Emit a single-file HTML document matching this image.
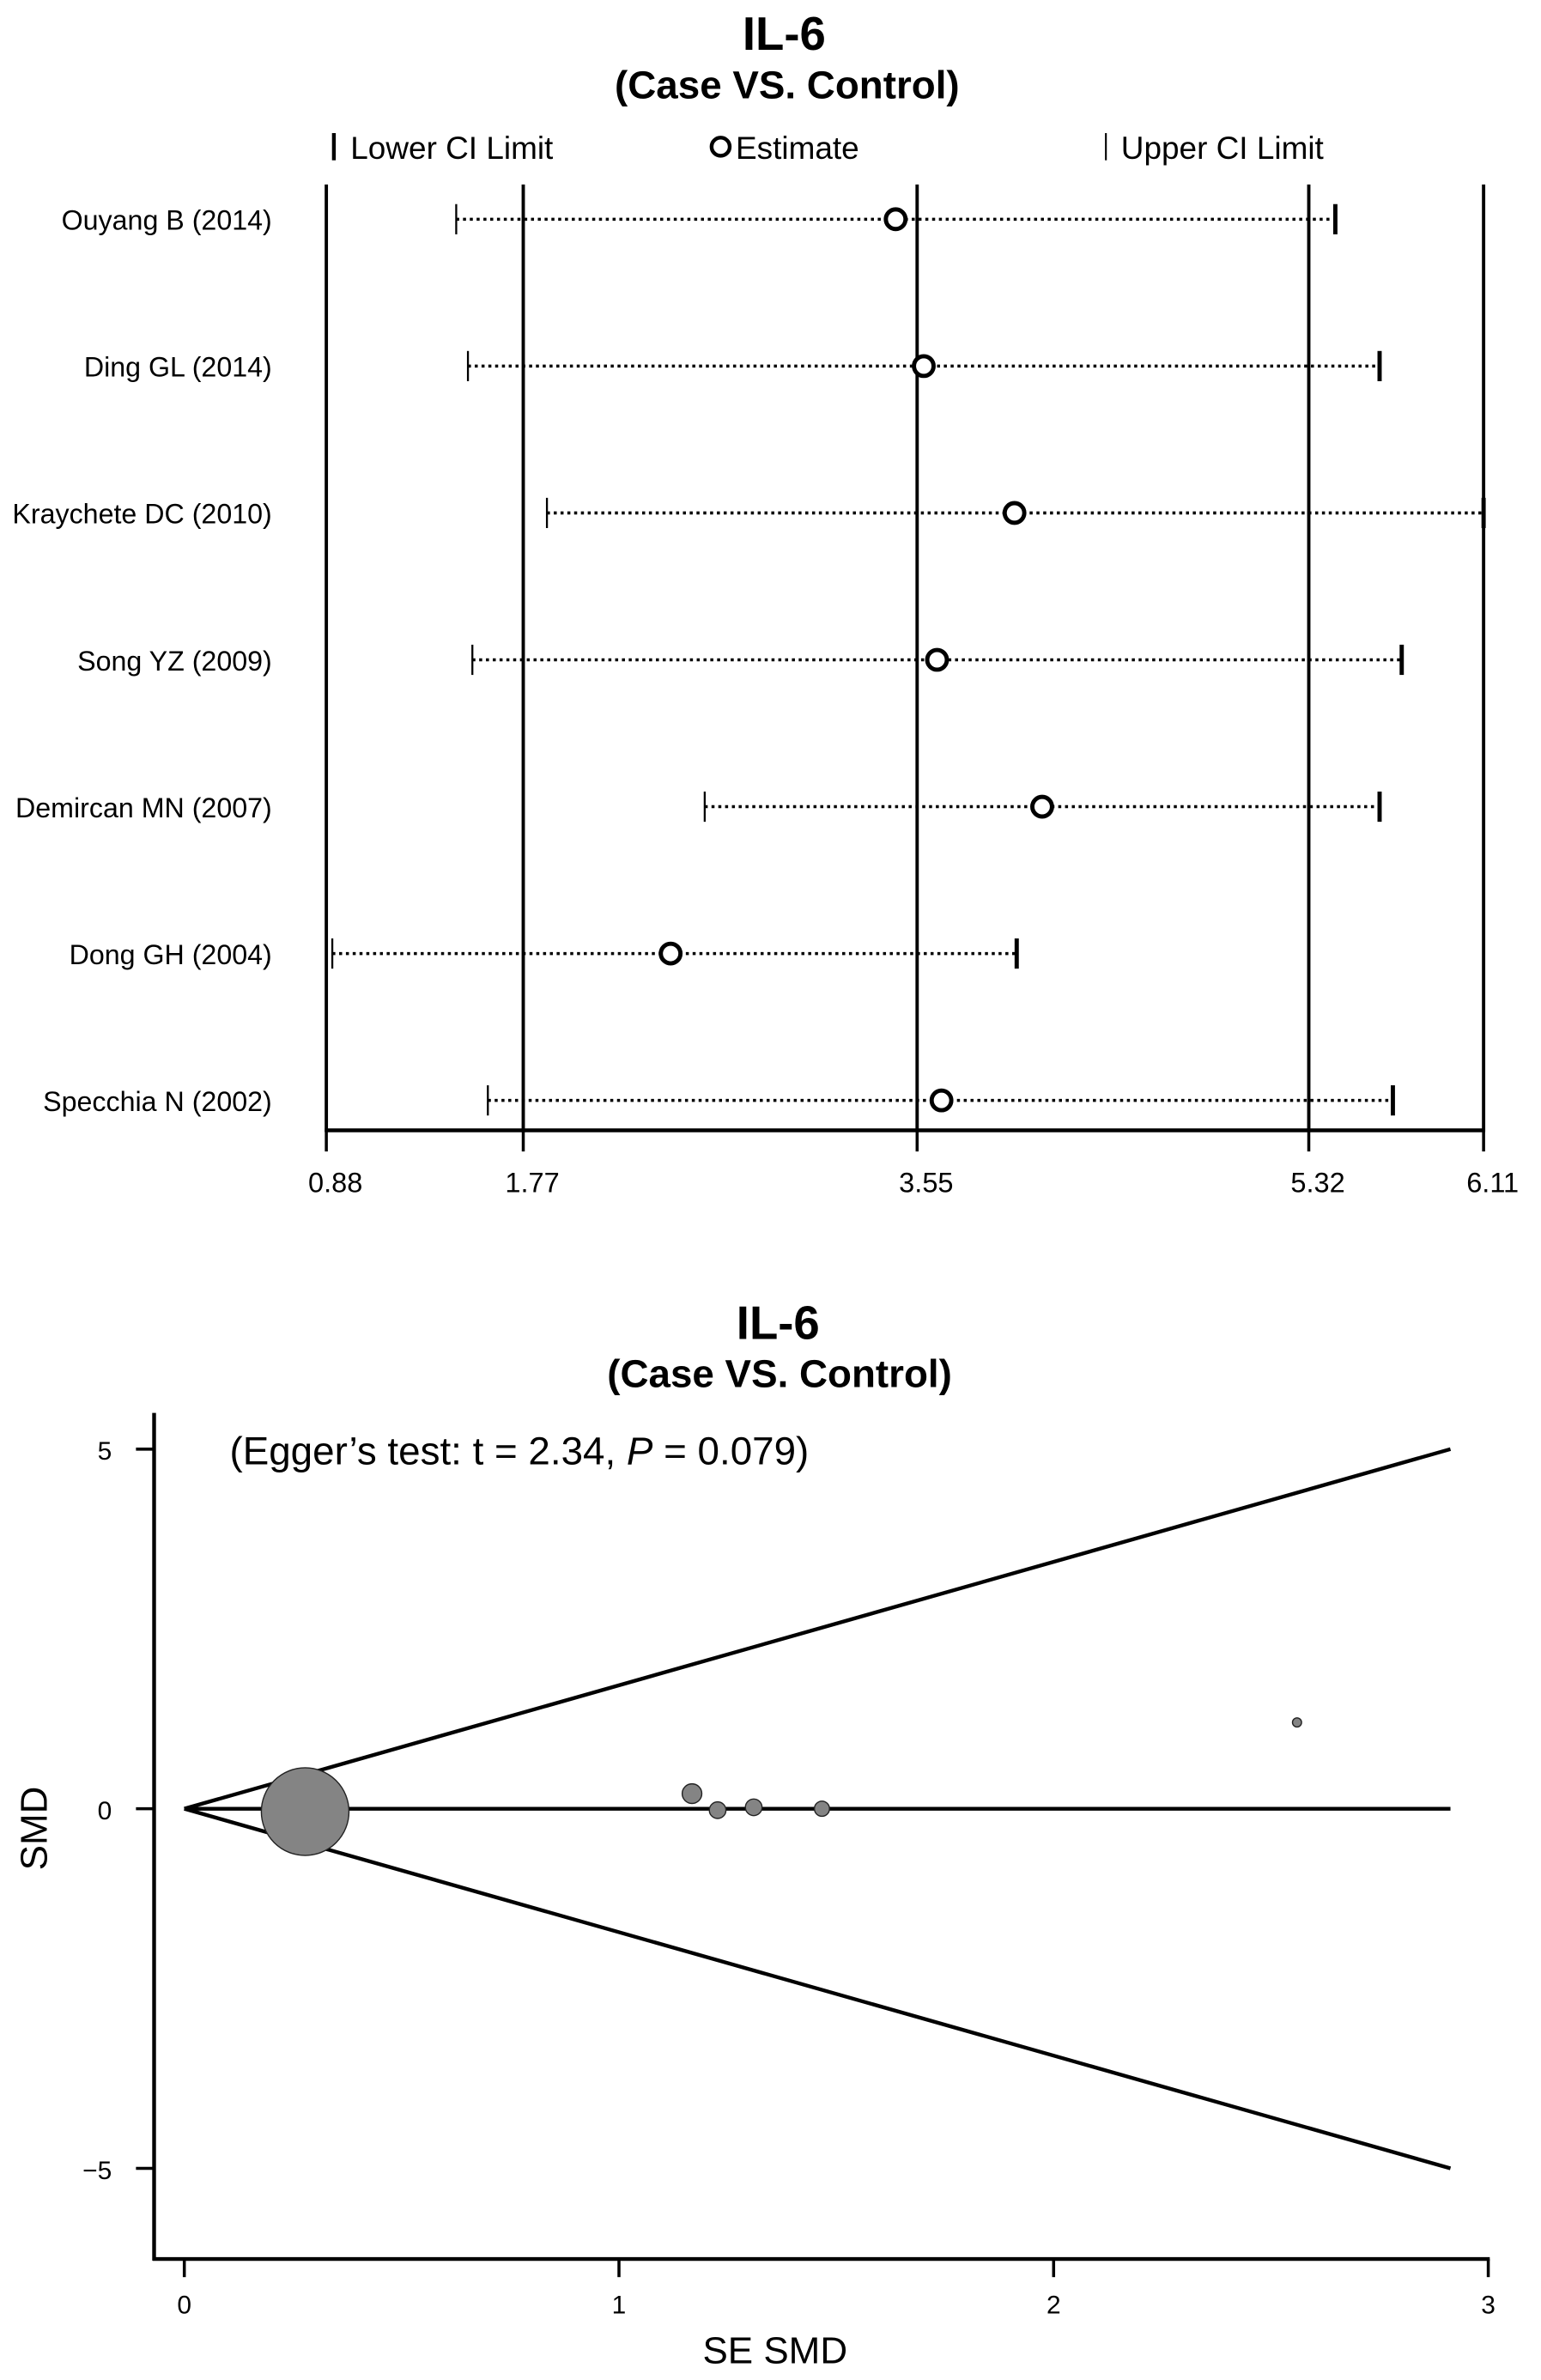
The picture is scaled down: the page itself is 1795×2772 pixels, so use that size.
<!DOCTYPE html>
<html><head><meta charset="utf-8"><style>
html,body{margin:0;padding:0;background:#fff;}
svg{display:block;font-family:"Liberation Sans",Arial,sans-serif;}
</style></head><body>
<svg id="fig" width="1795" height="2772" viewBox="0 0 1020 1575">
<g id="forest">
<text x="519" y="33" text-anchor="middle" font-size="31" font-weight="bold">IL-6</text>
<text x="521" y="65" text-anchor="middle" font-size="26" font-weight="bold">(Case VS. Control)</text>
<g>
<line x1="221" y1="88" x2="221" y2="106" stroke="#000" stroke-width="2.5"/>
<text x="232" y="105" font-size="21">Lower CI Limit</text>
<circle cx="477" cy="97" r="6" fill="none" stroke="#000" stroke-width="2.5"/>
<text x="487" y="105" font-size="21">Estimate</text>
<line x1="732" y1="88" x2="732" y2="106" stroke="#000" stroke-width="1.2"/>
<text x="742" y="105" font-size="21">Upper CI Limit</text>
</g>
</g>
<g id="funnel">
<text x="515" y="886" text-anchor="middle" font-size="31" font-weight="bold">IL-6</text>
<text x="516" y="918" text-anchor="middle" font-size="26" font-weight="bold">(Case VS. Control)</text>
<text x="152" y="969" font-size="26">(Egger’s test: t = 2.34, <tspan font-style="italic">P</tspan> = 0.079)</text>
<text transform="translate(31,1210) rotate(-90)" text-anchor="middle" font-size="25">SMD</text>
<text x="513" y="1564" text-anchor="middle" font-size="25">SE SMD</text>
</g>
</svg>
<script>
const NS='http://www.w3.org/2000/svg';
function mk(parent,tag,attrs){const e=document.createElementNS(NS,tag);for(const k in attrs)e.setAttribute(k,attrs[k]);parent.appendChild(e);return e;}

// ---- Forest plot data ----
const studies=['Ouyang B (2014)','Ding GL (2014)','Kraychete DC (2010)','Song YZ (2009)','Demircan MN (2007)','Dong GH (2004)','Specchia N (2002)'];
const lowerCI=[1.467,1.52,1.877,1.54,2.59,0.907,1.61];
const estimates=[3.453,3.58,3.99,3.64,4.115,2.436,3.66];
const upperCI=[5.44,5.64,6.11,5.74,5.64,4.0,5.70];
const forestTicks=[0.88,1.77,3.55,5.32,6.11];
const forestTickLabels=['0.88','1.77','3.55','5.32','6.11'];

const fx=v=>216+(v-0.88)*(766/5.23);
const rowY=i=>145+i*97.2;
const F=document.getElementById('forest');
forestTicks.forEach((t,i)=>{
  const l=mk(F,'line',{x1:fx(t),y1:122,x2:fx(t),y2:749,stroke:'#000','stroke-width':2.2});
  
  
  const tk=mk(F,'line',{x1:fx(t),y1:748,x2:fx(t),y2:762,stroke:'#000','stroke-width':2});
  
  
  const tx=mk(F,'text',{x:fx(t)+6,y:789,'text-anchor':'middle','font-size':18.5});
  tx.textContent=forestTickLabels[i];
  
  
});
const ax=mk(F,'line',{x1:fx(0.88)-1,y1:748,x2:fx(6.11)+1,y2:748,stroke:'#000','stroke-width':2.5});


studies.forEach((s,i)=>{
  const y=rowY(i);
  const lb=mk(F,'text',{x:180,y:y+7,'text-anchor':'end','font-size':18.3});
  lb.textContent=s;
  
  
  const ci=mk(F,'line',{x1:fx(lowerCI[i]),y1:y,x2:fx(upperCI[i]),y2:y,stroke:'#000','stroke-width':2,'stroke-dasharray':'2 2.5'});
  
  
  const lo=mk(F,'line',{x1:fx(lowerCI[i]),y1:y-10,x2:fx(lowerCI[i]),y2:y+10,stroke:'#000','stroke-width':1.3});
  
  
  const up=mk(F,'line',{x1:fx(upperCI[i]),y1:y-10,x2:fx(upperCI[i]),y2:y+10,stroke:'#000','stroke-width':2.8});
  
  
  const c=mk(F,'circle',{cx:fx(estimates[i]),cy:y,r:6.5,fill:'#fff',stroke:'#000','stroke-width':2.8});
  
  
});

// ---- Funnel plot data ----
const seValues=[0.278,1.168,1.227,1.31,1.467,2.56];
const smdValues=[-0.04,0.21,-0.02,0.02,0.0,1.2];
const pointRadii=[29,6.5,5.5,5.5,5,3];
const xTicks=[0,1,2,3];
const yTicks=[5,0,-5];
const yTickLabels=['5','0','\u22125'];
const funnelMaxSE=2.913;
const funnelBound=5;

const gx=v=>122+v*287.7;
const gy=v=>1197-v*47.6;
const G=document.getElementById('funnel');
const ya=mk(G,'line',{x1:102,y1:935,x2:102,y2:1496,stroke:'#000','stroke-width':2.5});


const xa=mk(G,'line',{x1:101,y1:1495,x2:gx(3)+1,y2:1495,stroke:'#000','stroke-width':2.5});


xTicks.forEach(t=>{
  const l=mk(G,'line',{x1:gx(t),y1:1495,x2:gx(t),y2:1507,stroke:'#000','stroke-width':2});
  
  
  const tx=mk(G,'text',{x:gx(t),y:1531,'text-anchor':'middle','font-size':17});
  tx.textContent=String(t);
  
  
});
yTicks.forEach((t,i)=>{
  const l=mk(G,'line',{x1:90,y1:gy(t),x2:102,y2:gy(t),stroke:'#000','stroke-width':2});
  
  
  const tx=mk(G,'text',{x:74,y:gy(t)+7,'text-anchor':'end','font-size':17});
  tx.textContent=yTickLabels[i];
  
  
});
[funnelBound,0,-funnelBound].forEach((b,i)=>{
  const l=mk(G,'line',{x1:gx(0),y1:gy(0),x2:gx(funnelMaxSE),y2:gy(b),stroke:'#000','stroke-width':2.5});
  
  
});
seValues.forEach((s,i)=>{
  const c=mk(G,'circle',{cx:gx(s),cy:gy(smdValues[i]),r:pointRadii[i],fill:'#848484',stroke:'#222','stroke-width':0.8});
  
  
});
</script>
</body></html>
